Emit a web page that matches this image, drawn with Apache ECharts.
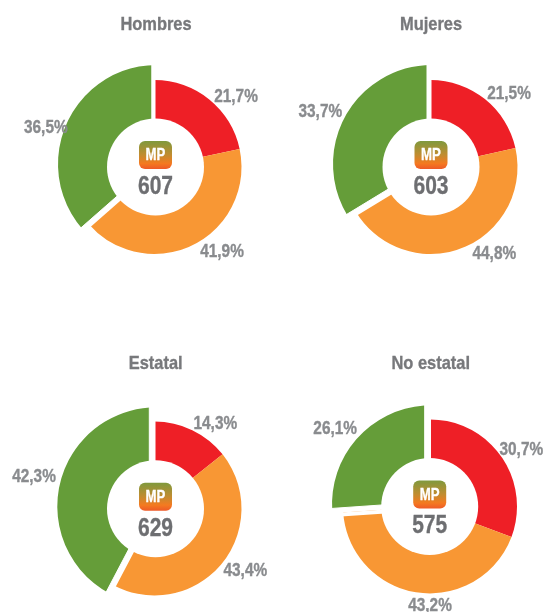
<!DOCTYPE html>
<html>
<head>
<meta charset="utf-8">
<style>
  html, body { margin: 0; background: #fff; }
  #chart { width: 546px; height: 612px; }
</style>
<script src="https://cdn.jsdelivr.net/npm/echarts@6/dist/echarts.min.js"></script>
</head>
<body>
<div id="chart"></div>
<script>
const titles = ['Hombres', 'Mujeres', 'Estatal', 'No estatal'];
const scores = ['607', '603', '629', '575'];
const badge = 'MP';
const red = [21.7, 21.5, 14.3, 30.7];
const orange = [41.9, 44.8, 43.4, 43.2];
const green = [36.5, 33.7, 42.3, 26.1];

const colors = ['#ee1f26', '#f89734', '#659d39'];
const FONT = '"Liberation Sans", Arial, sans-serif';

// centro del hueco, del anillo, del arco verde y de la mascara que corta el verde
const holes = [[155.5, 167], [431, 167], [155.5, 508.7], [429.7, 506.5]];
const rings = [[154.5, 167], [430.5, 167], [154.5, 508.5], [430, 506.4]];
const greenCenters = [[157, 164], [432, 164], [156.3, 506.3], [431, 504.3]];
const maskCenters = [[152, 165.5], [427, 165.5], [149.3, 510], [424.7, 502]];
const titlePos = [[156, 24.3], [431, 24.3], [155.7, 363.3], [430.7, 363.3]];
// centro de cada etiqueta: rojo, naranja, verde
const labelPos = [
  [[236, 96.7], [222, 251.7], [45.8, 127.7]],
  [[509, 94.3], [494.3, 254.3], [320.3, 112.3]],
  [[215.3, 423.7], [245.3, 570.7], [34, 477.3]],
  [[521.3, 450], [430, 605.7], [335.2, 428.7]],
];

const pct = v => v.toFixed(1).replace('.', ',') + '%';

// texto algo estrecho y grueso, la letra original es condensada
function textEl(text, x, y, size, fill, scaleX) {
  return {
    type: 'text', z: 11, x, y, scaleX,
    style: {
      text, fill, stroke: fill, lineWidth: 0.35, align: 'center', verticalAlign: 'middle',
      font: 'bold ' + size + 'px ' + FONT,
    },
  };
}

const series = [];
const graphic = [];

titles.forEach((t, i) => {
  const vals = [red[i], orange[i], green[i]];
  const slice = (show, style) => vals.map((v, k) => ({
    value: v,
    itemStyle: show(k) ? style(k) : { color: 'transparent' },
  }));
  const base = { type: 'pie', startAngle: 90, silent: true, label: { show: false }, labelLine: { show: false } };

  // porcion verde
  series.push({
    ...base, z: 1, center: greenCenters[i], radius: [30, 99],
    data: slice(k => k === 2, () => ({ color: colors[2] })),
  });
  // mascara blanca: recorta el verde por el lado del rojo y del naranja
  series.push({
    ...base, z: 2, center: maskCenters[i], radius: [0, 115],
    data: slice(k => k !== 2, () => ({ color: '#fff', borderColor: '#fff', borderWidth: 1 })),
  });
  // rojo y naranja
  series.push({
    ...base, z: 3, center: rings[i], radius: [40, 87],
    data: slice(k => k !== 2, k => ({ color: colors[k] })),
  });
  // hueco blanco entre el verde y sus vecinos
  series.push({
    ...base, z: 4, center: [rings[i][0] - 1, rings[i][1] + 2], radius: [0, 125],
    data: slice(k => k === 2, () => ({ color: 'transparent', borderColor: '#fff', borderWidth: 4 })),
  });

  const h = holes[i];
  graphic.push({ type: 'circle', z: 9, shape: { cx: h[0], cy: h[1], r: 48.5 }, style: { fill: '#fff' } });
  graphic.push({
    type: 'rect', z: 10,
    shape: { x: h[0] - 16.5, y: h[1] - 26, width: 33, height: 28, r: 6 },
    style: {
      fill: new echarts.graphic.LinearGradient(0, 0, 0, 1, [
        { offset: 0, color: '#7f993d' },
        { offset: 0.5, color: '#c28c30' },
        { offset: 0.8, color: '#f47a20' },
        { offset: 1, color: '#ee5a28' },
      ]),
    },
  });
  graphic.push(textEl(badge, h[0], h[1] - 11.5, 16.5, '#fff', 0.8));
  graphic.push(textEl(scores[i], h[0], h[1] + 20, 25, '#6d6e71', 0.84));
  graphic.push(textEl(t, titlePos[i][0], titlePos[i][1], 19, '#77787b', 0.865));
  vals.forEach((v, k) => {
    graphic.push(textEl(pct(v), labelPos[i][k][0], labelPos[i][k][1], 17.5, '#898b8e', 0.88));
  });
});

const chart = echarts.init(document.getElementById('chart'), null, { renderer: 'canvas' });
chart.setOption({ animation: false, backgroundColor: '#fff', series, graphic });
</script>
</body>
</html>
